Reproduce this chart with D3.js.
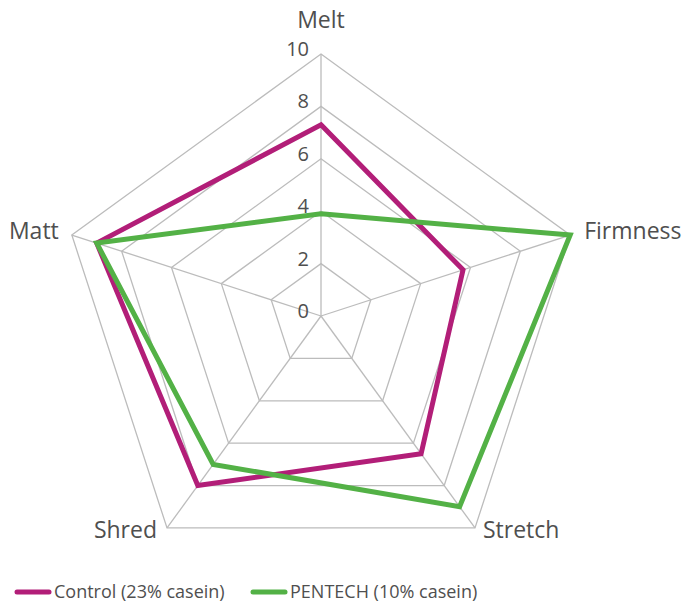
<!DOCTYPE html>
<html>
<head>
<meta charset="utf-8">
<script src="https://cdn.jsdelivr.net/npm/d3@7"></script>
<style>
  body { margin: 0; background: #fff; }
  svg text { font-family: "Open Sans", "Noto Sans", sans-serif; fill: #4f4f4f; }
</style>
</head>
<body>
<div id="chart"></div>
<script>
// axes, clockwise from top
const axes = ["Melt", "Firmness", "Stretch", "Shred", "Matt"];
const control = [7.3, 5.7, 6.5, 8.0, 9.0];
const pentech = [3.9, 10.0, 9.0, 7.0, 9.0];
const ticks = [0, 2, 4, 6, 8, 10];
const seriesNames = ["Control (23% casein)", "PENTECH (10% casein)"];
const seriesColors = ["#b21e78", "#53b146"];

const width = 683, height = 605;
const cx = 321, cy = 316, radius = 262;

const svg = d3.select("#chart")
  .append("svg")
  .attr("width", width)
  .attr("height", height);

const r = d3.scaleLinear().domain([0, 10]).range([0, radius]);
const angle = d3.scaleLinear().domain([0, axes.length]).range([0, 2 * Math.PI]);

const pt = (i, v) => [
  cx + r(v) * Math.sin(angle(i)),
  cy - r(v) * Math.cos(angle(i))
];

const g = svg.append("g");

// grid rings
ticks.filter(t => t > 0).forEach(t => {
  g.append("polygon")
    .attr("points", axes.map((a, i) => pt(i, t).join(",")).join(" "))
    .attr("fill", "none")
    .attr("stroke", "#bcbcbc")
    .attr("stroke-width", 1.3);
});

// spokes
axes.forEach((a, i) => {
  const [x, y] = pt(i, 10);
  g.append("line")
    .attr("x1", cx).attr("y1", cy)
    .attr("x2", x).attr("y2", y)
    .attr("stroke", "#bcbcbc")
    .attr("stroke-width", 1.3);
});

// tick labels
g.selectAll(".tick")
  .data(ticks)
  .enter()
  .append("text")
  .attr("class", "tick")
  .attr("x", cx - 12)
  .attr("y", d => cy - r(d))
  .attr("dy", "0.1em")
  .attr("text-anchor", "end")
  .style("font-size", "20px")
  .text(d => d);

// series
const line = d3.line().curve(d3.curveLinearClosed);
[control, pentech].forEach((vals, s) => {
  g.append("path")
    .attr("d", line(vals.map((v, i) => pt(i, v))))
    .attr("fill", "none")
    .attr("stroke", seriesColors[s])
    .attr("stroke-width", 5)
    .attr("stroke-linejoin", "miter");
});

// axis labels
const labelPos = [
  { dx: 0, dy: -34, anchor: "middle" },
  { dx: 14, dy: -4, anchor: "start" },
  { dx: 8, dy: 2, anchor: "start" },
  { dx: -10, dy: 2, anchor: "end" },
  { dx: -13, dy: -4, anchor: "end" }
];
axes.forEach((a, i) => {
  const [x, y] = pt(i, 10);
  const p = labelPos[i];
  g.append("text")
    .attr("x", x + p.dx)
    .attr("y", y + p.dy)
    .attr("dy", "0.35em")
    .attr("text-anchor", p.anchor)
    .style("font-size", "23px")
    .style("font-weight", 500)
    .text(a);
});

// legend
const legendX = [17, 253];
const legend = svg.append("g").attr("transform", "translate(0,592)");
seriesNames.forEach((name, s) => {
  legend.append("line")
    .attr("x1", legendX[s]).attr("x2", legendX[s] + 32)
    .attr("y1", 0).attr("y2", 0)
    .attr("stroke", seriesColors[s])
    .attr("stroke-width", 5)
    .attr("stroke-linecap", "round");
  legend.append("text")
    .attr("x", legendX[s] + 37)
    .attr("y", 0)
    .attr("dy", "0.35em")
    .style("font-size", "18px")
    .text(name);
});
</script>
</body>
</html>
